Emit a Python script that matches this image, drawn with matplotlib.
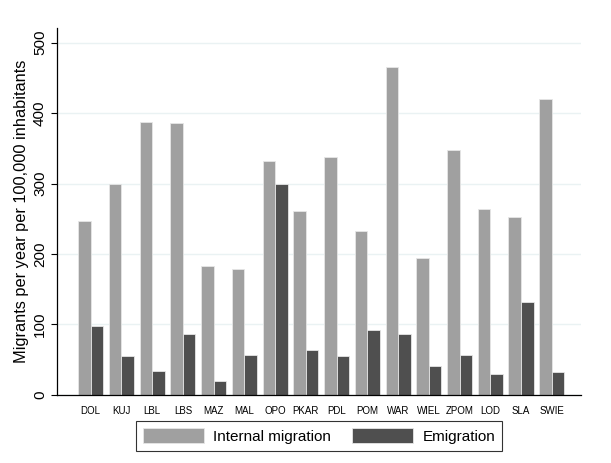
import numpy as np
import matplotlib.pyplot as plt

plt.rcParams['font.family'] = ['Liberation Sans', 'DejaVu Sans']

regions = ['DOL', 'KUJ', 'LBL', 'LBS', 'MAZ', 'MAL', 'OPO', 'PKAR', 'PDL', 'POM',
           'WAR', 'WIEL', 'ZPOM', 'LOD', 'SLA', 'SWIE']
internal = [247, 300, 388, 386, 183, 178, 332, 261, 338, 233, 465, 195, 347, 264, 253, 420]
emigration = [98, 55, 34, 87, 20, 57, 300, 64, 55, 92, 87, 41, 57, 30, 132, 33]

fig = plt.figure(figsize=(6.11, 4.63), dpi=100)
ax = fig.add_axes([0.093, 0.147, 0.858, 0.793])

x = np.arange(len(regions))
w = 0.41
ax.bar(x - w / 2, internal, w, color='#a0a0a0', edgecolor='#e6e6e6', linewidth=0.6,
       label='Internal migration', zorder=2)
ax.bar(x + w / 2, emigration, w, color='#4f4f4f', edgecolor='#e6e6e6', linewidth=0.6,
       label='Emigration', zorder=2)

ax.set_xlim(-1.1, 15.95)
ax.set_ylim(0, 521)
ax.set_yticks([0, 100, 200, 300, 400, 500])
ax.set_yticklabels(['0', '100', '200', '300', '400', '500'], rotation=90, va='center', fontsize=11)
ax.set_xticks(x)
ax.set_xticklabels(regions, fontsize=7)
ax.tick_params(axis='x', length=0, pad=8)
ax.tick_params(axis='y', length=4, width=0.8, pad=3)
ax.yaxis.grid(True, color='#eaf2f3', linewidth=1, zorder=0)
ax.set_axisbelow(True)
for s in ['top', 'right']:
    ax.spines[s].set_visible(False)
ax.spines['left'].set_linewidth(0.9)
ax.spines['bottom'].set_linewidth(0.9)
ax.set_ylabel('Migrants per year per 100,000 inhabitants', fontsize=11.8, labelpad=3)

leg = fig.legend(loc='lower center', bbox_to_anchor=(0.522, 0.01), ncol=2, fontsize=11,
                 frameon=True, fancybox=False, edgecolor='black', handlelength=4.0,
                 handleheight=1.1, handletextpad=0.6, columnspacing=1.4, borderpad=0.45)
leg.get_frame().set_linewidth(0.8)

fig.savefig('out.png', dpi=100)
